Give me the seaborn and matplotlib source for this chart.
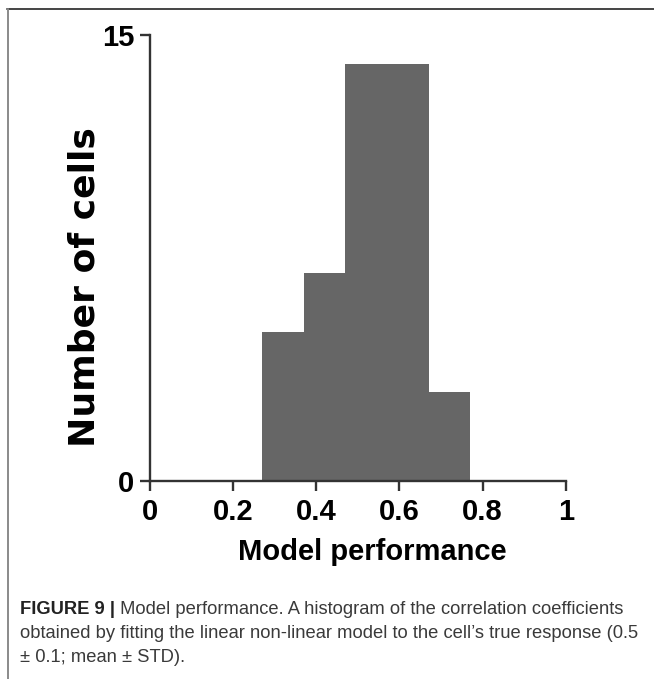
import matplotlib
matplotlib.use('Agg')
import matplotlib.pyplot as plt
import seaborn as sns
import numpy as np
import pandas as pd
from matplotlib.lines import Line2D

# ---- data ----
bin_left = [0.27, 0.37, 0.47, 0.57, 0.67]
cell_counts = [5, 7, 14, 14, 3]
bin_width = 0.1
x_ticks = [0, 0.2, 0.4, 0.6, 0.8, 1]
x_tick_labels = ['0', '0.2', '0.4', '0.6', '0.8', '1']
y_ticks = [0, 15]
y_tick_labels = ['0', '15']
x_label = 'Model performance'
y_label = 'Number of cells'
caption_bold = 'FIGURE 9 |'
caption_line1 = ' Model performance. A histogram of the correlation coefficients'
caption_line2 = 'obtained by fitting the linear non-linear model to the cell\u2019s true response (0.5'
caption_line3 = '\u00b1 0.1; mean \u00b1 STD).'

sns.set_theme(style='ticks')
plt.rcParams['font.family'] = ['Liberation Sans', 'DejaVu Sans']

W, H = 654, 679
fig = plt.figure(figsize=(W / 100, H / 100), dpi=100)
fig.patch.set_facecolor('white')

# axes placed in pixel terms
x0, x1 = 150, 565.7
y_top, y_bot = 34.7, 480.7
ax = fig.add_axes([x0 / W, 1 - y_bot / H, (x1 - x0) / W, (y_bot - y_top) / H])

df = pd.DataFrame({'perf': np.array(bin_left) + bin_width / 2, 'count': cell_counts})
edges = list(bin_left) + [bin_left[-1] + bin_width]
sns.histplot(data=df, x='perf', weights='count', bins=edges, element='step',
             fill=True, color='#666666', alpha=1, linewidth=0, ax=ax)

ax.set_xlim(0, 1)
ax.set_ylim(0, 15)
for s in ['top', 'right']:
    ax.spines[s].set_visible(False)
for s in ['left', 'bottom']:
    ax.spines[s].set_color('#333333')
    ax.spines[s].set_linewidth(1.7)
    ax.spines[s].set_capstyle('projecting')

ax.set_xticks(x_ticks, x_tick_labels, fontsize=21, fontweight='bold', color='black')
ax.set_yticks(y_ticks, y_tick_labels, fontsize=21, fontweight='bold', color='black')
ax.tick_params(axis='both', direction='out', length=7.5, width=1.7, color='#333333',
               bottom=True, left=True)
ax.tick_params(axis='x', pad=5)
ax.tick_params(axis='y', pad=4)

ax.set_xlabel(x_label, fontsize=21, fontweight='bold', color='black')
ax.set_ylabel(y_label, fontsize=26, fontweight='bold', color='black',
              family=['DejaVu Sans', 'Liberation Sans'])
ax.xaxis.set_label_coords((372 - x0) / (x1 - x0), (y_bot - 552) / (y_bot - y_top))
ax.xaxis.label.set_va('center')
ax.yaxis.set_label_coords((85 - x0) / (x1 - x0), (y_bot - 287) / (y_bot - y_top))
ax.yaxis.label.set_va('center')

# ---- frame lines of the figure panel ----
fig.add_artist(Line2D([7 / W, 1], [1 - 8.5 / H, 1 - 8.5 / H], color='#444444', lw=1.4,
                      transform=fig.transFigure))
fig.add_artist(Line2D([7.5 / W, 7.5 / W], [0, 1 - 8.5 / H], color='#8a8a8a', lw=1.4,
                      transform=fig.transFigure))

# ---- caption ----
cap_color = '#3a3a3a'
left_px = 20
base = [614, 638, 662]
fs = 11.0
renderer = fig.canvas.get_renderer()
tb = fig.text(left_px / W, 1 - base[0] / H, caption_bold, fontsize=fs, fontweight='bold',
              color='#222222', va='baseline', ha='left')
bb = tb.get_window_extent(renderer)
t1 = fig.text(bb.x1 / W, 1 - base[0] / H, caption_line1, fontsize=fs, color=cap_color,
              va='baseline', ha='left')
bb1 = t1.get_window_extent(renderer)
scale = (620 - left_px) / (bb1.x1 - left_px)
fs = fs * scale
tb.set_fontsize(fs)
bb = tb.get_window_extent(renderer)
t1.set_fontsize(fs)
t1.set_x(bb.x1 / W)
fig.text(left_px / W, 1 - base[1] / H, caption_line2, fontsize=fs, color=cap_color,
         va='baseline', ha='left')
fig.text(left_px / W, 1 - base[2] / H, caption_line3, fontsize=fs, color=cap_color,
         va='baseline', ha='left')

fig.savefig('out.png', dpi=100, facecolor='white')
